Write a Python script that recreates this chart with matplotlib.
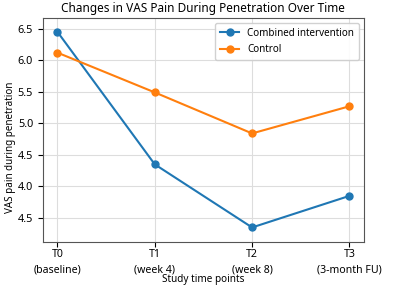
import matplotlib
matplotlib.use("Agg")
import matplotlib.pyplot as plt

# données
time_labels = ["T0\n(baseline)", "T1\n(week 4)", "T2\n(week 8)", "T3\n(3-month FU)"]
combined = [6.45, 4.35, 3.35, 3.85]
control = [6.12, 5.49, 4.84, 5.27]
y_ticks = [6.5, 6.0, 5.5, 5.0, 4.5, 4.0, 3.5]
y_tick_labels = ["6.5", "6.0", "5.5", "5.0", "4.5", "4.0", "4.5"]

plt.rcParams['font.family'] = ['Noto Sans', 'DejaVu Sans']

fig = plt.figure(figsize=(4.04, 2.94), dpi=100)
ax = fig.add_axes([0.106, 0.177, 0.795, 0.762])

x = list(range(len(time_labels)))
ax.plot(x, combined, marker='o', markersize=5, linewidth=1.5, color='#1f77b4', label='Combined intervention')
ax.plot(x, control, marker='o', markersize=5, linewidth=1.5, color='#ff7f0e', label='Control')

ax.set_xticks(x)
ax.set_xticklabels(time_labels, fontsize=7.6, linespacing=1.65)
ax.tick_params(axis='x', pad=1.3)
ax.set_yticks(y_ticks)
ax.set_yticklabels(y_tick_labels, fontsize=7.8)
ax.set_ylim(3.12, 6.67)

ax.set_title("Changes in VAS Pain During Penetration Over Time", fontsize=8.5, pad=4)
ax.set_xlabel("Study time points", fontsize=7.2, labelpad=-1)
ax.set_ylabel("VAS pain during penetration", fontsize=7.1)
ax.yaxis.set_label_coords(-0.083, 0.424)

ax.grid(True, color='#dddddd', linewidth=0.8)
for s in ax.spines.values():
    s.set_color('#555555')

ax.legend(loc='upper right', fontsize=7.1, handlelength=2, borderpad=0.5,
          labelspacing=0.55, framealpha=0.9)

fig.savefig("out.png", dpi=100)
